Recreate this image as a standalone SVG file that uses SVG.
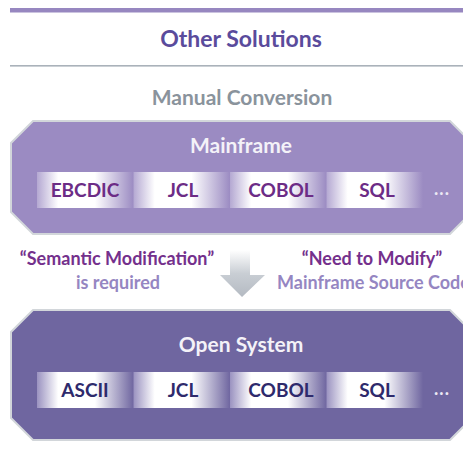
<svg xmlns="http://www.w3.org/2000/svg" width="463" height="475" viewBox="0 0 463 475">
  <style>
    text { font-family: Lato, "Open Sans", "Liberation Sans", sans-serif; font-weight: bold; }
    .title { font-size: 23px; fill: #5a4b9c; text-anchor: middle; }
    .sub { font-size: 21px; fill: #8a939c; text-anchor: middle; }
    .head { font-size: 21px; fill: #f4f2f8; text-anchor: middle; }
    .chip1 { font-size: 19px; fill: #6c2c86; text-anchor: middle; }
    .chip2 { font-size: 19px; fill: #2e2a6c; text-anchor: middle; }
    .dots { font-size: 18px; fill: #ece8f4; text-anchor: middle; letter-spacing: 1px; }
    .q { font-size: 18px; fill: #74308c; text-anchor: middle; }
    .note { font-size: 18px; fill: #9586c2; }
    .frame { stroke: #d2d6da; stroke-width: 2; }
  </style>
  <defs>
    <linearGradient id="chipA" x1="0" y1="0" x2="1" y2="0">
      <stop offset="0" stop-color="#b4a8d2"/>
      <stop offset="0.22" stop-color="#ffffff"/>
      <stop offset="0.6" stop-color="#ffffff"/>
      <stop offset="1" stop-color="#9b8bc2"/>
    </linearGradient>
    <linearGradient id="chipB" x1="0" y1="0" x2="1" y2="0">
      <stop offset="0" stop-color="#9a92c0"/>
      <stop offset="0.22" stop-color="#ffffff"/>
      <stop offset="0.6" stop-color="#ffffff"/>
      <stop offset="1" stop-color="#6f66a0"/>
    </linearGradient>
    <linearGradient id="arrowFill" x1="0" y1="0" x2="0" y2="1">
      <stop offset="0" stop-color="#ffffff"/>
      <stop offset="0.5" stop-color="#c9ced4"/>
      <stop offset="1" stop-color="#b4bac2"/>
    </linearGradient>
  </defs>

  <!-- header -->
  <rect x="10" y="8" width="453" height="4.5" fill="#9787c0"/>
  <text class="title" x="241" y="47">Other Solutions</text>
  <rect x="10" y="65" width="453" height="1.6" fill="#aab2ba"/>
  <text class="sub" x="242" y="105">Manual Conversion</text>

  <!-- mainframe block -->
  <g id="mainframe">
    <polygon class="frame" fill="#9b8bc2" points="33,121 450,121 472,143 472,212 450,234 33,234 11,212 11,143"/>
    <text class="head" x="241" y="153">Mainframe</text>
    <rect x="37" y="172" width="96.5" height="36" fill="url(#chipA)"/>
    <rect x="133.5" y="172" width="96.5" height="36" fill="url(#chipA)"/>
    <rect x="230" y="172" width="96.5" height="36" fill="url(#chipA)"/>
    <rect x="326.5" y="172" width="96.5" height="36" fill="url(#chipA)"/>
    <text class="chip1" x="85" y="197">EBCDIC</text>
    <text class="chip1" x="183" y="197">JCL</text>
    <text class="chip1" x="281" y="197">COBOL</text>
    <text class="chip1" x="377" y="197">SQL</text>
    <text class="dots" x="442" y="195">...</text>
  </g>

  <!-- conversion arrow and notes -->
  <g id="connectors">
    <polygon fill="url(#arrowFill)" points="230,250 250,250 250,275 265,275 242,297 220,275 230,275"/>
  </g>
  <g id="notes">
    <text class="q" x="117" y="265">“Semantic Modification”</text>
    <text class="note" x="118" y="289" text-anchor="middle">is required</text>
    <text class="q" x="372" y="265">“Need to Modify”</text>
    <text class="note" x="277" y="289">Mainframe Source Code</text>
  </g>

  <!-- open system block -->
  <g id="open-system">
    <polygon class="frame" fill="#6f66a0" points="33,310 450,310 472,332 472,418 450,440 33,440 11,418 11,332"/>
    <text class="head" x="241" y="352">Open System</text>
    <rect x="37" y="372" width="96.5" height="36" fill="url(#chipB)"/>
    <rect x="133.5" y="372" width="96.5" height="36" fill="url(#chipB)"/>
    <rect x="230" y="372" width="96.5" height="36" fill="url(#chipB)"/>
    <rect x="326.5" y="372" width="96.5" height="36" fill="url(#chipB)"/>
    <text class="chip2" x="85" y="397">ASCII</text>
    <text class="chip2" x="183" y="397">JCL</text>
    <text class="chip2" x="281" y="397">COBOL</text>
    <text class="chip2" x="377" y="397">SQL</text>
    <text class="dots" x="442" y="395">...</text>
  </g>
</svg>
